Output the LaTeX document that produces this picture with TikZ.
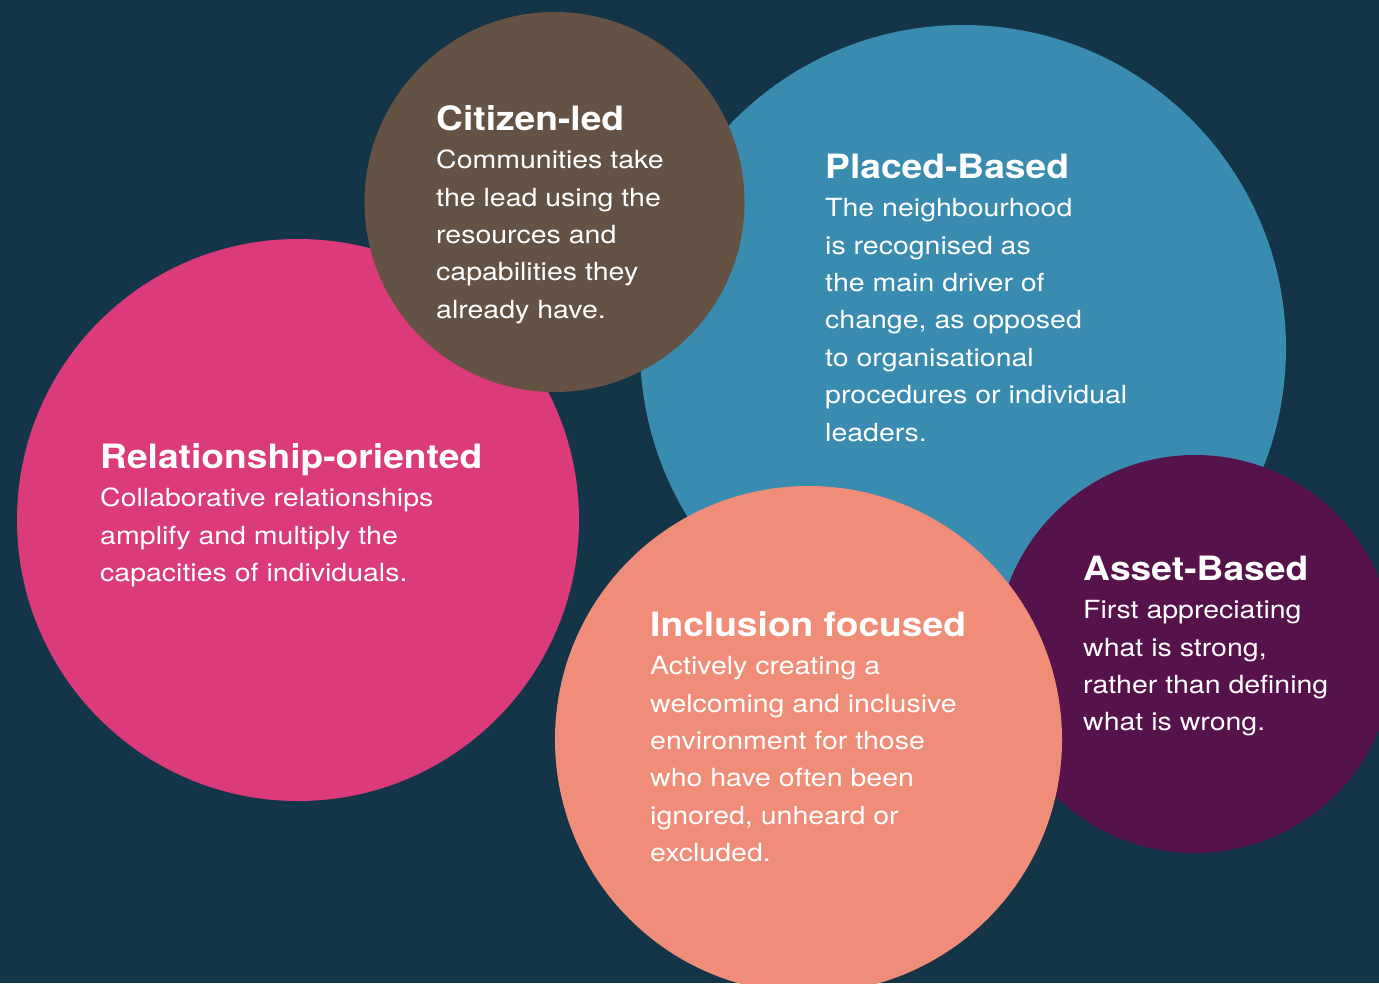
\documentclass[tikz,border=0pt]{standalone}
\usepackage{fontspec}
\setmainfont{TeX Gyre Heros}
\newfontfamily\bodyfont{TeX Gyre Heros}[FakeStretch=1.14]
\newfontfamily\headfont{TeX Gyre Heros}[FakeStretch=1.11]
\definecolor{bgnavy}{HTML}{143547}
\definecolor{cpink}{HTML}{DB3B7A}
\definecolor{cbrown}{HTML}{645344}
\definecolor{cblue}{HTML}{3A8BB0}
\definecolor{csalmon}{HTML}{F08D78}
\definecolor{cpurple}{HTML}{56124A}
\newcommand{\hd}[1]{\rule{0pt}{30pt}{\headfont\bfseries\fontsize{33.5}{37.5}\selectfont #1}\\[1pt]}
\begin{document}
\begin{tikzpicture}[x=1pt,y=-1pt,
  blob/.style={circle,inner sep=0pt,minimum size=#1},
  txt/.style={anchor=north west,inner sep=0pt,align=left,text=white,
    font=\bodyfont\fontsize{25}{37.4}\selectfont}]
  % backdrop
  \fill[bgnavy] (0,0) rectangle (1379,983);
  \useasboundingbox (0,0) rectangle (1379,983);
  \clip (0,0) rectangle (1379,983);
  % circles, back to front
  \node[blob=562pt,fill=cpink] (pink) at (298,520) {};
  \node[blob=646pt,fill=cblue] (blue) at (963,348) {};
  \node[blob=380pt,fill=cbrown] (brown) at (554.5,202) {};
  \node[blob=398pt,fill=cpurple] (purple) at (1195,654) {};
  \node[blob=507pt,fill=csalmon] (salmon) at (808.5,739.5) {};
  % texts
  \node[txt] (tcitizen) at (436,100) {\hd{Citizen-led}%
    Communities take\\the lead using the\\resources and\\capabilities they\\already have.};
  \node[txt] (tplace) at (825,148) {\hd{Placed-Based}%
    The neighbourhood\\is recognised as\\the main driver of\\change, as opposed\\to organisational\\procedures or individual\\leaders.};
  \node[txt] (trel) at (100,438) {\hd{Relationship-oriented}%
    Collaborative relationships\\amplify and multiply the\\capacities of individuals.};
  \node[txt] (tincl) at (650,606) {\hd{Inclusion focused}%
    Actively creating a\\welcoming and inclusive\\environment for those\\who have often been\\ignored, unheard or\\excluded.};
  \node[txt] (tasset) at (1083,550) {\hd{Asset-Based}%
    First appreciating\\what is strong,\\rather than defining\\what is wrong.};
\end{tikzpicture}
\end{document}
